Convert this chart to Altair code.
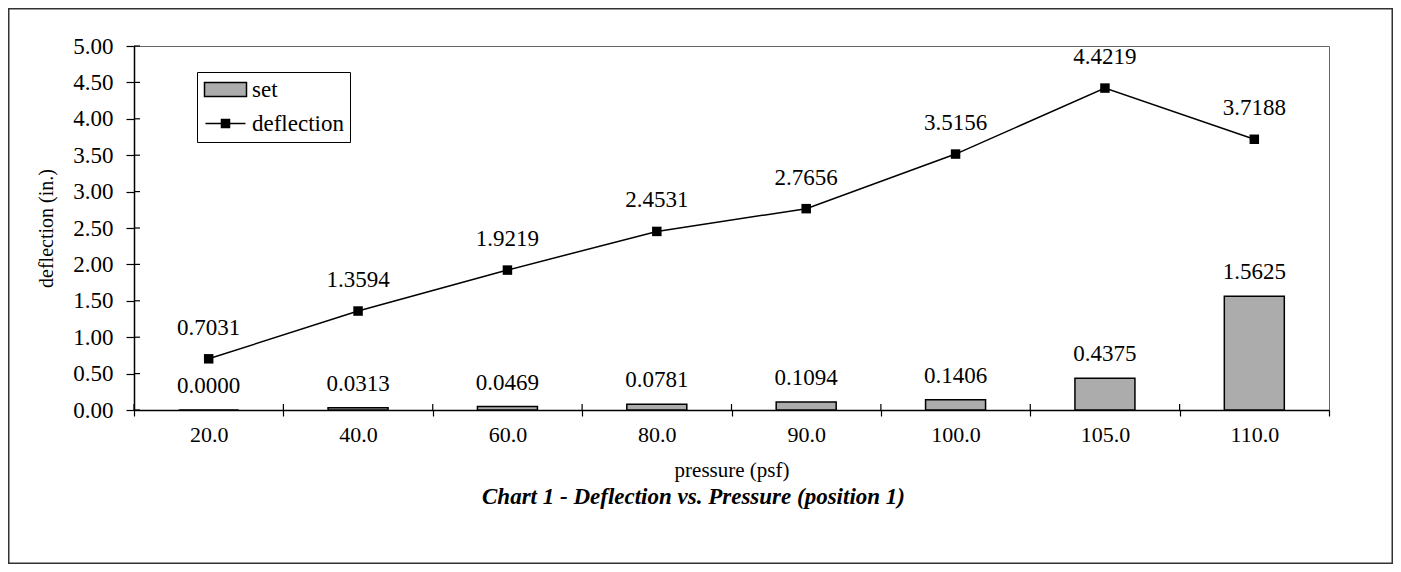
import altair as alt
import pandas as pd

pressure = ["20.0", "40.0", "60.0", "80.0", "90.0", "100.0", "105.0", "110.0"]
set_vals = [0.0000, 0.0313, 0.0469, 0.0781, 0.1094, 0.1406, 0.4375, 1.5625]
deflection = [0.7031, 1.3594, 1.9219, 2.4531, 2.7656, 3.5156, 4.4219, 3.7188]
series_names = ["set", "deflection"]
y_ticks = [0.0, 0.5, 1.0, 1.5, 2.0, 2.5, 3.0, 3.5, 4.0, 4.5, 5.0]

FONT = "Liberation Serif"
GRAY = "#acacac"
W, H = 1195, 364
PAD_L, PAD_T, PAD_R, PAD_B = 126, 38, 64, 154

df = pd.DataFrame({"pressure": pressure, "set": set_vals, "deflection": deflection})
df["set_lbl"] = [f"{v:.4f}" for v in set_vals]
df["def_lbl"] = [f"{v:.4f}" for v in deflection]
legend_df = pd.DataFrame({"series": series_names})
ytick_df = pd.DataFrame({"set": y_ticks})
frame_df = pd.DataFrame({"k": [0]})

xaxis = alt.Axis(title="pressure (psf)", labelAngle=0, tickBand="extent",
                 tickSize=6, labelPadding=8, titlePadding=14,
                 labelFontSize=22, titleFontSize=21,
                 domainColor="black", domainWidth=1.5,
                 tickColor="black", tickWidth=1.2)
xscale = alt.Scale(paddingInner=0, paddingOuter=0)
yscale = alt.Scale(domain=[0, 5], nice=False, zero=True)
yaxis = alt.Axis(title="deflection (in.)", values=y_ticks, format=".2f",
                 tickSize=8, labelPadding=13, titlePadding=16,
                 labelFontSize=23, titleFontSize=20, labelOverlap=False,
                 domainColor="black", domainWidth=1.5,
                 tickColor="black", tickWidth=1.2)


def X(**kw):
    return alt.X("pressure:O", sort=pressure, scale=xscale, axis=xaxis, **kw)


def Y(field):
    return alt.Y(f"{field}:Q", scale=yscale, axis=yaxis)


base = alt.Chart(df)

bars = base.mark_bar(size=60, fill=GRAY, stroke="black", strokeWidth=1.5).encode(
    x=X(), y=Y("set"))

bar_text = base.mark_text(dy=-24, fontSize=23, font=FONT, color="black").encode(
    x=X(), y=Y("set"), text="set_lbl:N")

line = base.mark_line(color="black", strokeWidth=1.5).encode(
    x=X(), y=Y("deflection"))

pts = base.mark_square(size=90, color="black", opacity=1).encode(
    x=X(), y=Y("deflection"))

line_text = base.mark_text(dy=-31, fontSize=23, font=FONT, color="black").encode(
    x=X(), y=Y("deflection"), text="def_lbl:N")

# inner halves of the crossing tick marks
ytick_in = alt.Chart(ytick_df).mark_rule(color="black", strokeWidth=1.2).encode(
    y=Y("set"), x=alt.value(0), x2=alt.value(6))
xtick_in = base.mark_rule(color="black", strokeWidth=1.2).encode(
    x=X(bandPosition=0), y=alt.value(H - 6), y2=alt.value(H))

# legend-only layer (its data is filtered away, only the legend shows)
shape_scale = alt.Scale(domain=series_names,
                        range=["M-2.1,-0.7H2.1V0.7H-2.1Z",
                               "M-2.0,0H2.0M-0.4,-0.4H0.4V0.4H-0.4Z"])
fill_scale = alt.Scale(domain=series_names, range=[GRAY, "black"])
stroke_scale = alt.Scale(domain=series_names, range=["black", "black"])
leg = alt.Legend(title=None, orient="none", legendX=63, legendY=26,
                 strokeColor="black", fillColor="white", padding=6,
                 symbolSize=400, symbolOffset=11, labelOffset=15,
                 symbolStrokeWidth=1.5, symbolOpacity=1,
                 labelFontSize=23, labelFont=FONT, labelColor="black",
                 rowPadding=10, labelLimit=300)
legend_layer = alt.Chart(legend_df).transform_filter("false").mark_point(
    filled=True, opacity=1, strokeWidth=1.5).encode(
    shape=alt.Shape("series:N", scale=shape_scale, legend=leg),
    fill=alt.Fill("series:N", scale=fill_scale, legend=leg),
    stroke=alt.Stroke("series:N", scale=stroke_scale, legend=leg))

# outer frame of the figure (kept inside the drawable page area)
frame = alt.Chart(frame_df).mark_rect(fillOpacity=0, stroke="#333", strokeWidth=1.5).encode(
    x=alt.value(-PAD_L + 0.75), x2=alt.value(W + PAD_R - 0.75),
    y=alt.value(-PAD_T + 0.75), y2=alt.value(H + PAD_B - 0.75))

chart = alt.layer(frame, bars, bar_text, line, pts, line_text, ytick_in, xtick_in, legend_layer).properties(
    width=W, height=H,
    title=alt.TitleParams("Chart 1 - Deflection vs. Pressure (position 1)", orient="bottom",
                          anchor="middle", dx=-38, offset=-78,
                          font=FONT, fontSize=23, fontStyle="italic", fontWeight="bold", color="black"),
    autosize=alt.AutoSizeParams(type="none"),
    padding={"left": PAD_L, "top": PAD_T, "right": PAD_R, "bottom": PAD_B},
).configure(font=FONT, background="white").configure_axis(
    labelFont=FONT, titleFont=FONT, labelColor="black", titleColor="black",
    titleFontWeight="normal", grid=False
).configure_view(stroke="#666", strokeWidth=1)

chart.save("out.html", embed_options={"renderer": "svg", "actions": False})
